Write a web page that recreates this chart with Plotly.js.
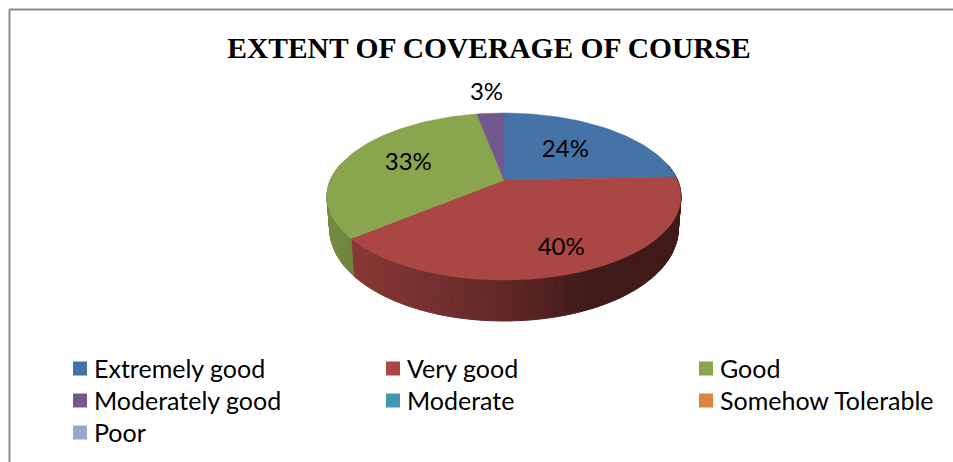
<!DOCTYPE html>
<html><head><meta charset="utf-8">
<script src="https://cdn.plot.ly/plotly-3.0.1.min.js"></script>
<style>html,body{margin:0;padding:0;background:#fff}#c{width:953px;height:462px}</style>
</head><body><div id="c"></div>
<script>
// Data
const categories = ["Extremely good","Very good","Good","Moderately good","Moderate","Somehow Tolerable","Poor"];
const shares = [24.4, 39.6, 33, 3, 0, 0, 0];
const colors = ["#4572A7","#AA4643","#89A54E","#71588F","#4198AF","#DB843D","#93A9CF"];
const titleText = "EXTENT OF COVERAGE OF COURSE";
// Layout of the tilted pie (perspective projection of a unit disc)
const CX = 504, CY = 180, KX = 173.5, KY = 80.24, P = 0.1976;
const labelRadius = [0.55, 0.79, 0.61, 1.36, 0, 0, 0];

const proj = (u, v) => [CX + KX*u/(1+P*v), CY - KY*v/(1+P*v)];
const rim = a => proj(Math.sin(a), Math.cos(a));
const low = a => {
  const u = Math.sin(a), v = Math.cos(a), p = proj(u, v);
  return [CX + (p[0]-CX)*0.985, p[1] + 30 - 11*v];
};
const shade = x => Math.max(0.37, Math.min(0.88, x < CX ? 0.57 + (CX-x)*0.00152 : 0.57 - (x-CX)*0.0023));
const mix = (hex, f) => {
  const n = parseInt(hex.slice(1), 16);
  return `rgb(${Math.round((n>>16&255)*f)},${Math.round((n>>8&255)*f)},${Math.round((n&255)*f)})`;
};
const total = shares.reduce((a,b)=>a+b, 0);
const sides = [], tops = [];
const lx = [], ly = [], lt = [];
let acc = 0;
categories.forEach((name, i) => {
  if (!shares[i]) return;
  const a0 = acc/total*2*Math.PI, a1 = (acc+shares[i])/total*2*Math.PI;
  acc += shares[i];
  const steps = Math.max(2, Math.ceil((a1-a0)/(1.5*Math.PI/180)));
  const px = [CX], py = [CY];
  for (let k = 0; k <= steps; k++) {
    const a = a0 + (a1-a0)*k/steps, p = rim(a);
    px.push(p[0]); py.push(p[1]);
    if (k < steps && Math.cos(a) < 0.2) {
      const b = a0 + (a1-a0)*(k+1)/steps, q = rim(b), r = low(b), s = low(a);
      const col = mix(colors[i], shade((p[0]+q[0])/2));
      sides.push({type:"scatter", mode:"lines", x:[p[0],q[0],r[0],s[0],p[0]], y:[p[1],q[1],r[1],s[1],p[1]],
        fill:"toself", fillcolor:col, line:{color:col,width:1}, showlegend:false, hoverinfo:"skip"});
    }
  }
  px.push(CX); py.push(CY);
  tops.push({type:"scatter", mode:"lines", x:px, y:py, fill:"toself", fillcolor:colors[i],
    line:{color:colors[i],width:0.5}, name:name, showlegend:false, hoverinfo:"name"});
  const mid = (a0+a1)/2, r = labelRadius[i], l = proj(r*Math.sin(mid), r*Math.cos(mid));
  lx.push(l[0]); ly.push(l[1]); lt.push(Math.round(shares[i]/total*100)+"%");
});
const labels = {type:"scatter", mode:"text", x:lx, y:ly, text:lt, textposition:"middle center",
  textfont:{family:"Lato, sans-serif", size:24, color:"#000"}, showlegend:false, hoverinfo:"skip", cliponaxis:false};
const keys = categories.map((name,i)=>({type:"scatter", mode:"markers", x:[null], y:[null], name:name,
  marker:{symbol:"square", size:14, color:colors[i]}, showlegend:true}));

const frame = [
  {type:"line", xref:"paper", yref:"paper", x0:9.5/953, x1:9.5/953, y0:0, y1:1-9.5/462, line:{color:"#8a8a8a",width:2}},
  {type:"line", xref:"paper", yref:"paper", x0:9.5/953, x1:1, y0:1-9.5/462, y1:1-9.5/462, line:{color:"#8a8a8a",width:2}}
];
Plotly.newPlot("c", [...sides, ...tops, labels, ...keys], {
  width:953, height:462, margin:{l:0,r:0,t:0,b:0,autoexpand:false}, paper_bgcolor:"rgba(0,0,0,0)", plot_bgcolor:"rgba(0,0,0,0)",
  title:{text:"<b>"+titleText+"</b>", font:{family:"Liberation Serif, serif", size:29.5, color:"#000"},
    x:489/953, xanchor:"center", xref:"paper", y:1-48/462, yanchor:"middle", yref:"container"},
  xaxis:{range:[0,953], visible:false, fixedrange:true},
  yaxis:{range:[462,0], visible:false, fixedrange:true},
  shapes:frame, hovermode:"closest",
  legend:{orientation:"h", xref:"container", yref:"container", x:54/953, xanchor:"left", y:1-348/462, yanchor:"top", entrywidth:268, entrywidthmode:"pixels",
    bgcolor:"rgba(0,0,0,0)", traceorder:"normal", font:{family:"Lato, sans-serif", size:25, color:"#000"}, itemclick:false, itemdoubleclick:false}
}, {displayModeBar:false}).then(() => {
  document.querySelectorAll(".legend .legendsymbols").forEach(n => n.setAttribute("transform","translate(6,0)"));
  document.querySelectorAll(".legend .traces").forEach(n => {
    const m = /translate\(([-\d.]+),\s*([-\d.]+)\)/.exec(n.getAttribute("transform"));
    if (m) n.setAttribute("transform", `translate(${m[1]},${(+m[2])*32/35.5})`);
  });
});
</script></body></html>
